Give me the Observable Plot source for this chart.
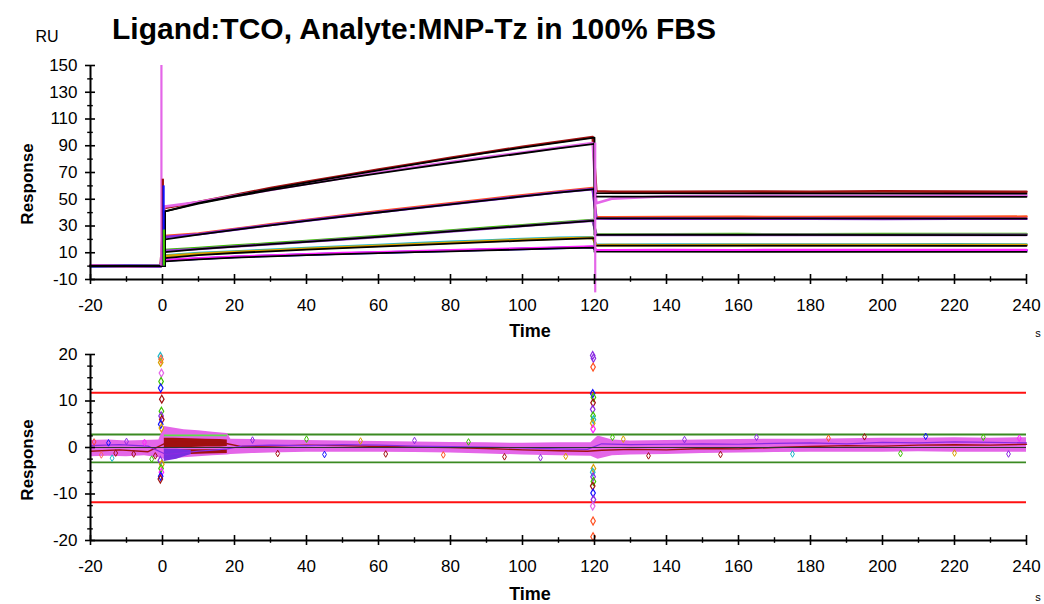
<!DOCTYPE html>
<html><head><meta charset="utf-8">
<script src="https://cdn.jsdelivr.net/npm/d3@7"></script>
<script src="https://cdn.jsdelivr.net/npm/@observablehq/plot@0.6"></script>
<style>
body{margin:0;background:#fff;}
#wrap{position:relative;width:1044px;height:604px;overflow:hidden;background:#fff;font-family:"Liberation Sans",Arial,sans-serif;}
#wrap svg{position:absolute;left:0;overflow:visible;}
.lbl{position:absolute;color:#000;white-space:nowrap;line-height:1;}
</style></head><body><div id="wrap"></div>
<script>
// ---------- tick labels ----------
const xMajor = [-20,0,20,40,60,80,100,120,140,160,180,200,220,240];
const xMinor = [-10,10,30,50,70,90,110,130,150,170,190,210,230];
const yTopMajor = [-10,10,30,50,70,90,110,130,150];
const yTopMinor = [0,20,40,60,80,100,120,140];
const yBotMajor = [-20,-10,0,10,20];
const yBotMinor = [-17.5,-15,-12.5,-7.5,-5,-2.5,2.5,5,7.5,12.5,15,17.5];

// ---------- sensorgram data ----------
const tData = [-20,-10,-0.5,0.5,10,20,30,40,50,60,70,80,90,100,110,119.5,120.5,125,140,160,180,200,220,240];
const dA1 = [0.3,0.5,0.2,43.5,48,53.2,58.3,63,67.6,72.2,76.6,81,85.2,89.2,93,96.5,56,55.6,55.5,55.8,55.6,55.9,55.7,55.6];
const dA2 = [0.5,0.2,-0.3,44.5,48,52.5,57,61.5,65.8,70,74,77.8,81.5,85,88.6,92,47,50.5,52.2,52.5,52.6,52.6,52.8,52.7];
const dB1 = [0,0.3,0.1,22.5,24.3,27.8,31.2,34.5,37.8,41,44,47,50,53,55.8,58.3,36.5,36.5,36.6,36.8,36.6,36.9,36.8,37.0];
const dB2 = [0.2,0,-0.2,21.8,23.8,27.3,30.7,34,37.2,40.3,43.3,46.3,49.3,52.2,55.2,57.6,35.6,35.4,35.5,35.4,35.5,35.3,35.5,35.4];
const dC1 = [0.2,0.4,0,12,13.5,15.3,17,18.8,20.6,22.5,24.5,26.6,28.6,30.6,32.6,34.5,23.8,23.7,23.8,23.9,23.8,24,24,23.9];
const dC2 = [0,0.2,-0.2,11.5,12.8,14.7,16.4,18.2,20,21.8,23.8,26,28,30,32,34,23.3,23.3,23.4,23.3,23.4,23.3,23.4,23.4];
const dD1 = [0,0.3,0.1,8,9.8,10.9,12.2,13.6,14.7,15.8,17,18.1,19.2,20.2,21.2,21.6,16,16,16.1,16.2,16.1,16.2,16.3,16.2];
const dD2 = [0.2,0,-0.1,7.5,9.3,10.5,11.7,13,14.1,15.2,16.4,17.5,18.6,19.6,20.6,21.2,15.6,15.7,15.6,15.7,15.7,15.8,15.7,15.8];
const dE1 = [0,0.2,0,4.2,5.5,6.8,7.8,8.6,9.4,10.1,10.8,11.5,12.2,12.9,13.6,14.3,11.6,11.5,11.6,11.5,11.6,11.7,11.6,11.6];
const dE2 = [0.3,0.1,0.2,4.5,5.8,7,8,8.9,9.7,10.4,11.1,11.8,12.5,13.2,13.9,14.6,11.9,11.9,12,11.9,12,12,12.1,12];
const dataSeries = [dA1,dA2,dB1,dB2,dC1,dC2,dD1,dD2,dE1,dE2];
const dataColors = ["#a01010","#e466e8","#ff5020","#8a2be2","#3cc000","#9b40d0","#20b8c8","#d8a000","#1010ff","#ff20ff"];

// ---------- fitted curves ----------
const fitT = [-20,0.7,0.7,10,20,30,40,50,60,70,80,90,100,110,120,120,240];
const fitA1 = [0,0,41,47.2,52.6,57.7,62.5,67.1,71.6,76,80.4,84.6,88.6,92.4,96,54.6,54.2];
const fitA2 = [0,0,41,46.8,52,56.8,61.2,65.4,69.4,73.3,77.1,80.7,84.4,88,91.4,52,51.8];
const fitB  = [0,0,20,23.6,27.1,30.5,33.8,37,40.1,43.2,46.2,49.2,52.1,54.9,57.6,35.8,35.5];
const fitC  = [0,0,10.5,12.7,14.6,16.4,18.2,20,21.9,23.9,26,28,30,32,34,23.4,23.2];
const fitD  = [0,0,6,8.3,9.8,11.1,12.4,13.5,14.6,15.7,16.8,17.9,19,20,21,15.4,15.2];
const fitE  = [0,0,3.5,5,6.3,7.3,8.2,9,9.7,10.4,11.1,11.8,12.5,13.2,13.8,10.8,10.6];
const fits = [fitA1,fitA2,fitB,fitC,fitD,fitE];

// ---------- injection spikes (top panel) ----------
const spikeT = [-0.3,0.1,0.3,0.4,120.2];
const spikeLo = [0,0,0,0,-20];
const spikeHi = [150,65,60,27,92];
const spikeColor = ["#e466e8","#a01010","#1010ff","#3cc000","#e466e8"];

// ---------- residuals ----------
const resT  = [-20,-15,-10,-5,-1,0.5,3,6,10,14,18,19,25,30,40,50,60,70,80,90,100,110,119,121,125,130,140,150,160,170,180,190,200,210,220,230,240];
const resHi = [1.5,1.6,1.4,1.5,1.6,4.5,4.2,3.8,3.6,3.3,3.0,1.8,1.7,1.6,1.5,1.4,1.3,1.2,1.1,1.0,0.9,1.0,1.0,2.5,1.6,1.4,1.5,1.6,1.7,1.8,1.8,1.9,2.0,2.0,2.1,2.0,2.1];
const resLo = [-2.0,-1.9,-2.0,-1.8,-2.2,-2.5,-2.4,-2.2,-2.0,-1.8,-1.6,-1.5,-1.3,-1.2,-1.0,-1.0,-1.0,-1.1,-1.2,-1.4,-1.6,-1.8,-1.9,-2.5,-1.8,-1.6,-1.5,-1.3,-1.2,-1.1,-1.0,-1.0,-1.0,-0.9,-1.0,-1.0,-1.0];
const drT  = [0.5,3,8,12,16,18];
const drHi = [2.0,2.0,1.9,1.8,1.7,1.6];
const drLo = [-0.2,0,0,0.1,0.1,0.2];
const dr2T  = [3,8,12,18];
const dr2Hi = [-0.5,-0.5,-0.5,-0.5];
const dr2Lo = [-1.6,-1.5,-1.4,-1.3];
const pbT  = [0.5,2,4,6,8];
const pbHi = [-0.3,-0.4,-0.4,-0.5,-0.6];
const pbLo = [-3.0,-2.8,-2.5,-2.0,-1.5];
const resLineT   = [-20,-12,-4,1,5,10,15,18,22,30,40,50,60,70,80,90,100,110,118,122,130,140,150,160,170,180,190,200,210,220,230,240];
const resDarkRed = [-0.8,-0.5,-0.9,1.0,1.2,1.0,0.9,0.8,0.2,0.3,0.5,0.4,0.2,0.1,0,-0.2,-0.5,-0.7,-0.8,-0.6,-0.4,-0.5,-0.2,-0.3,0,0.2,0.4,0.3,0.5,0.6,0.5,0.7];
const resPurple  = [0.4,0.6,0.3,-1.5,-1.2,-0.8,-0.5,-0.3,0.3,0.5,0.4,0.6,0.5,0.3,0.2,0.1,-0.1,-0.3,-0.4,0.8,0.6,0.7,0.8,0.7,0.9,1.0,0.8,1.1,1.0,1.2,1.1,1.0];
const redLimits = [11.8,-11.8];
const greenLimits = [2.8,-3.2];

const speckT = [-19,-17,-15,-14,-13,-10,-8,-5,-3,-2,25,32,40,45,55,62,70,78,85,95,105,112,125,128,135,145,155,165,175,185,195,205,212,220,228,235,238];
const speckV = [1.2,-1.6,1.0,-2.3,-1.2,1.3,-1.4,1.1,-2.5,-1.8,1.6,-1.3,1.8,-1.5,1.4,-1.4,1.5,-1.6,1.2,-2.0,-2.2,-1.9,2.2,1.8,-1.8,1.7,-1.5,2.2,-1.4,2.0,2.3,-1.3,2.4,-1.2,2.2,-1.4,2.0];
const speckC = ["#ff4040","#ff6060","#1010ff","#20b8c8","#a01010","#8a2be2","#a01010","#ff20ff","#3cc000","#a01010","#8a2be2","#a01010","#3cc000","#1010ff","#d8a000","#a01010","#8a2be2","#ff5020","#3cc000","#a01010","#8a2be2","#d8a000","#3cc000","#d8a000","#a01010","#8a2be2","#a01010","#8a2be2","#20b8c8","#ff5020","#a01010","#3cc000","#1010ff","#d8a000","#3cc000","#8a2be2","#ff20ff"];

const sp0T = [-0.6,-0.4,-0.5,-0.3,-0.4,-0.5,-0.2,-0.3,-0.4,-0.2,-0.5,-0.3,-0.6,-0.2,-0.4,-0.3,-0.5,-0.6];
const sp0V = [19.6,19.0,18.3,16.0,14.2,12.8,10.4,7.8,6.8,6.0,5.0,4.2,-2.8,-3.6,-4.5,-5.3,-6.2,-6.8];
const sp0C = ["#20b8c8","#ff6040","#d8a000","#e466e8","#3cc000","#1010ff","#a01010","#3cc000","#8a2be2","#a01010","#1010ff","#d8a000","#8a2be2","#d8a000","#3cc000","#ff20ff","#1010ff","#a01010"];
const sp120T = [119.5,119.7,119.6,119.5,119.7,119.6,119.5,119.6,119.7,119.5,119.6,119.7,119.5,119.6,119.7,119.5,119.6,119.7,119.5,119.6,119.6];
const sp120V = [19.8,19.2,17.3,11.6,10.8,9.6,8.2,6.8,6.0,5.2,4.0,-4.5,-5.3,-6.3,-7.3,-8.3,-9.8,-11.2,-12.6,-15.8,-19.2];
const sp120C = ["#8a2be2","#8a2be2","#ff5020","#1010ff","#3cc000","#a01010","#8a2be2","#3cc000","#20b8c8","#d8a000","#ff20ff","#d8a000","#20b8c8","#8a2be2","#3cc000","#a01010","#1010ff","#8a2be2","#e466e8","#ff5020","#ff5020"];

// ---------- layout ----------
const W = 1044, ML = 90, MR = 18;
const xDomain = [-20, 240];
const kx = (xDomain[1]-xDomain[0])/(W-ML-MR);
const topP = {H:345, mt:65, mb:66, y:[-10,150]};
const botP = {H:259, mt:9, mb:64, y:[-20,20]};
const PINK = "#e466e8";
const font = '"Liberation Sans", Arial, sans-serif';

function rows(ts, vs){ return ts.map((t,i)=>({t, v: vs[i]})); }
function bandRows(ts, lo, hi){ return ts.map((t,i)=>({t, lo: lo[i], hi: hi[i]})); }
function ptRows(ts, vs, cs){ return ts.map((t,i)=>({t, v: vs[i], c: cs[i]})); }

function axisMarks(p, yMajor, yMinor){
  const ky = (p.y[1]-p.y[0])/(p.H-p.mt-p.mb);
  const x0 = xDomain[0], y0 = p.y[0];
  return [
    Plot.ruleX([x0], {y1: p.y[0], y2: p.y[1], stroke:"#000", strokeWidth:2}),
    Plot.ruleY([y0], {x1: xDomain[0], x2: xDomain[1], stroke:"#000", strokeWidth:2}),
    Plot.ruleY(yMajor, {y: d=>d, x1: x0-5*kx, x2: x0+5*kx, stroke:"#000", strokeWidth:1.6}),
    Plot.ruleY(yMinor, {y: d=>d, x1: x0-2.8*kx, x2: x0+2.8*kx, stroke:"#000", strokeWidth:1.4}),
    Plot.ruleX(xMajor, {x: d=>d, y1: y0-5*ky, y2: y0+5*ky, stroke:"#000", strokeWidth:1.6}),
    Plot.ruleX(xMinor, {x: d=>d, y1: y0-2.8*ky, y2: y0+2.8*ky, stroke:"#000", strokeWidth:1.4}),
    Plot.axisY({ticks: yMajor, tickSize:0, tickPadding:13, tickFormat: d=>String(d), label:null, fontSize:17, fill:"#000"}),
    Plot.axisX({ticks: xMajor, tickSize:0, tickPadding:19, tickFormat: d=>String(d), label:null, fontSize:17, fill:"#000"})
  ];
}

// ---------- top panel ----------
const topMarks = [];
dataSeries.forEach((s,i)=> topMarks.push(Plot.line(rows(tData, s), {x:"t", y:"v", stroke: dataColors[i], strokeWidth:2.6})));
fits.forEach(f => topMarks.push(Plot.line(rows(fitT, f), {x:"t", y:"v", stroke:"#000", strokeWidth:1.8})));
const spikes = spikeT.map((t,i)=>({t, lo: spikeLo[i], hi: spikeHi[i], c: spikeColor[i]}));
topMarks.push(Plot.ruleX(spikes, {x:"t", y1:"lo", y2:"hi", stroke: "c", strokeWidth:2.2}));
topMarks.push(...axisMarks(topP, yTopMajor, yTopMinor));

const topPlot = Plot.plot({
  width: W, height: topP.H, marginLeft: ML, marginRight: MR, marginTop: topP.mt, marginBottom: topP.mb,
  x: {domain: xDomain}, y: {domain: topP.y}, color: {type:"identity"},
  style: {fontFamily: font, fontSize:"17px", color:"#000", background:"transparent", overflow:"visible"},
  marks: topMarks
});

// ---------- bottom panel ----------
const botMarks = [
  Plot.ruleY(redLimits, {y: d=>d, x1: xDomain[0], x2: xDomain[1], stroke:"#ff1010", strokeWidth:2}),
  Plot.ruleY(greenLimits, {y: d=>d, x1: xDomain[0], x2: xDomain[1], stroke:"#3b8a22", strokeWidth:1.8}),
  Plot.areaY(bandRows(resT, resLo, resHi), {x:"t", y1:"lo", y2:"hi", fill: PINK}),
  Plot.areaY(bandRows(drT, drLo, drHi), {x:"t", y1:"lo", y2:"hi", fill:"#a01010"}),
  Plot.areaY(bandRows(dr2T, dr2Lo, dr2Hi), {x:"t", y1:"lo", y2:"hi", fill:"#a01010"}),
  Plot.areaY(bandRows(pbT, pbLo, pbHi), {x:"t", y1:"lo", y2:"hi", fill:"#7a2fe0"}),
  Plot.line(rows(resLineT, resDarkRed), {x:"t", y:"v", stroke:"#a01010", strokeWidth:1.4}),
  Plot.line(rows(resLineT, resPurple), {x:"t", y:"v", stroke:"#8a2be2", strokeWidth:1.2}),
  Plot.ruleY([0], {x1: xDomain[0], x2: xDomain[1], stroke:"#333", strokeWidth:1}),
  Plot.ruleY([2.6], {x1: 0.5, x2: 18, stroke:"#5ee04a", strokeWidth:1.6}),
  Plot.dot(ptRows(speckT, speckV, speckC), {x:"t", y:"v", stroke:"c", symbol:"diamond", r:2, strokeWidth:1}),
  Plot.dot(ptRows(sp0T, sp0V, sp0C), {x:"t", y:"v", stroke:"c", symbol:"diamond", r:2.4, strokeWidth:1.2}),
  Plot.dot(ptRows(sp120T, sp120V, sp120C), {x:"t", y:"v", stroke:"c", symbol:"diamond", r:2.4, strokeWidth:1.2}),
  ...axisMarks(botP, yBotMajor, yBotMinor)
];
const botPlot = Plot.plot({
  width: W, height: botP.H, marginLeft: ML, marginRight: MR, marginTop: botP.mt, marginBottom: botP.mb,
  x: {domain: xDomain}, y: {domain: botP.y}, color: {type:"identity"},
  style: {fontFamily: font, fontSize:"17px", color:"#000", background:"transparent", overflow:"visible"},
  marks: botMarks
});

const wrap = document.getElementById("wrap");
topPlot.style.top = "0px";
botPlot.style.top = topP.H + "px";
wrap.appendChild(topPlot);
wrap.appendChild(botPlot);

function label(text, x, y, size, weight, rot){
  const d = document.createElement("div");
  d.className = "lbl";
  d.textContent = text;
  d.style.left = x + "px"; d.style.top = y + "px";
  d.style.fontSize = size + "px"; d.style.fontWeight = weight;
  d.style.transform = "translate(-50%,-50%)" + (rot ? " rotate(-90deg)" : "");
  wrap.appendChild(d);
}
label("Ligand:TCO, Analyte:MNP-Tz in 100% FBS", 414, 29, 30, "bold", false);
label("RU", 47, 37, 16, "normal", false);
label("Response", 27, 184, 17, "bold", true);
label("Response", 27, 460, 17, "bold", true);
label("Time", 530, 331, 18, "bold", false);
label("Time", 530, 594, 18, "bold", false);
label("s", 1038, 333, 11, "normal", false);
label("s", 1038, 597, 11, "normal", false);
</script></body></html>
